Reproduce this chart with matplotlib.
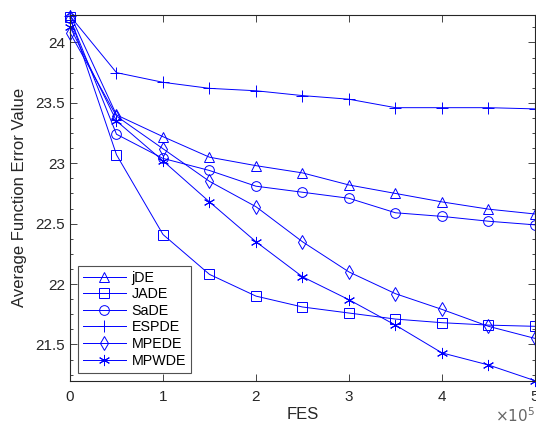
import matplotlib
matplotlib.use("Agg")
import matplotlib.pyplot as plt
import numpy as np
from matplotlib.ticker import MultipleLocator

plt.rcParams['font.family'] = ['Liberation Sans', 'DejaVu Sans']

fes = [0, 0.5, 1, 1.5, 2, 2.5, 3, 3.5, 4, 4.5, 5]  # x 1e5
jde   = [24.23, 23.40, 23.22, 23.05, 22.98, 22.92, 22.82, 22.75, 22.68, 22.62, 22.58]
jade  = [24.21, 23.07, 22.41, 22.08, 21.90, 21.81, 21.76, 21.71, 21.68, 21.66, 21.65]
sade  = [24.20, 23.24, 23.04, 22.94, 22.81, 22.76, 22.71, 22.59, 22.56, 22.52, 22.49]
espde = [24.22, 23.75, 23.67, 23.62, 23.60, 23.56, 23.53, 23.46, 23.46, 23.46, 23.45]
mpede = [24.08, 23.39, 23.12, 22.85, 22.64, 22.35, 22.10, 21.92, 21.79, 21.65, 21.55]
mpwde = [24.13, 23.35, 23.02, 22.68, 22.35, 22.06, 21.87, 21.66, 21.43, 21.33, 21.20]

names = ['jDE', 'JADE', 'SaDE', 'ESPDE', 'MPEDE', 'MPWDE']
series = [jde, jade, sade, espde, mpede, mpwde]
markers = ['^', 's', 'o', '+', 'd', (6, 2, 0)]
msizes = [7.5, 6.5, 7, 9, 7.5, 8]

fig = plt.figure(figsize=(5.36, 4.30), dpi=100)
ax = fig.add_axes([0.1306, 0.1147, 0.8675, 0.8512])

blue = (0, 0, 1)
for name, ys, m, ms in zip(names, series, markers, msizes):
    ax.plot(fes, ys, color=blue, lw=0.7, marker=m, markersize=ms,
            markerfacecolor='none', markeredgecolor=blue, markeredgewidth=0.7,
            label=name, clip_on=False)

ax.set_xlim(0, 5)
ax.set_ylim(21.2, 24.23)
ax.set_xticks([0, 1, 2, 3, 4, 5])
ax.set_yticks([21.5, 22, 22.5, 23, 23.5, 24])
ax.set_yticklabels(['21.5', '22', '22.5', '23', '23.5', '24'])
ax.yaxis.set_minor_locator(MultipleLocator(0.125))

grey = (0.15, 0.15, 0.15)
for s in ax.spines.values():
    s.set_color(grey)
    s.set_linewidth(0.8)
ax.tick_params(which='both', direction='in', top=True, right=True,
               colors=grey, labelcolor=grey, labelsize=11, width=0.6)
ax.tick_params(which='major', length=5)
ax.tick_params(which='minor', length=2.5)
ax.tick_params(axis='x', pad=7)

ax.set_xlabel('FES', fontsize=12, color=grey, labelpad=2)
ax.set_ylabel('Average Function Error Value', fontsize=12, color=grey, labelpad=6)
ax.text(1.0, -0.095, r'$\times10^5$', transform=ax.transAxes, ha='right', va='center',
        fontsize=11, color=(0.4, 0.4, 0.4))

leg = ax.legend(loc='lower left', bbox_to_anchor=(0.017, 0.022), fontsize=10.3,
                frameon=True, fancybox=False, edgecolor=grey, handlelength=3.0,
                borderpad=0.35, labelspacing=0.18, handletextpad=0.4, borderaxespad=0)
leg.get_frame().set_linewidth(0.8)

fig.savefig('out.png', dpi=100)
